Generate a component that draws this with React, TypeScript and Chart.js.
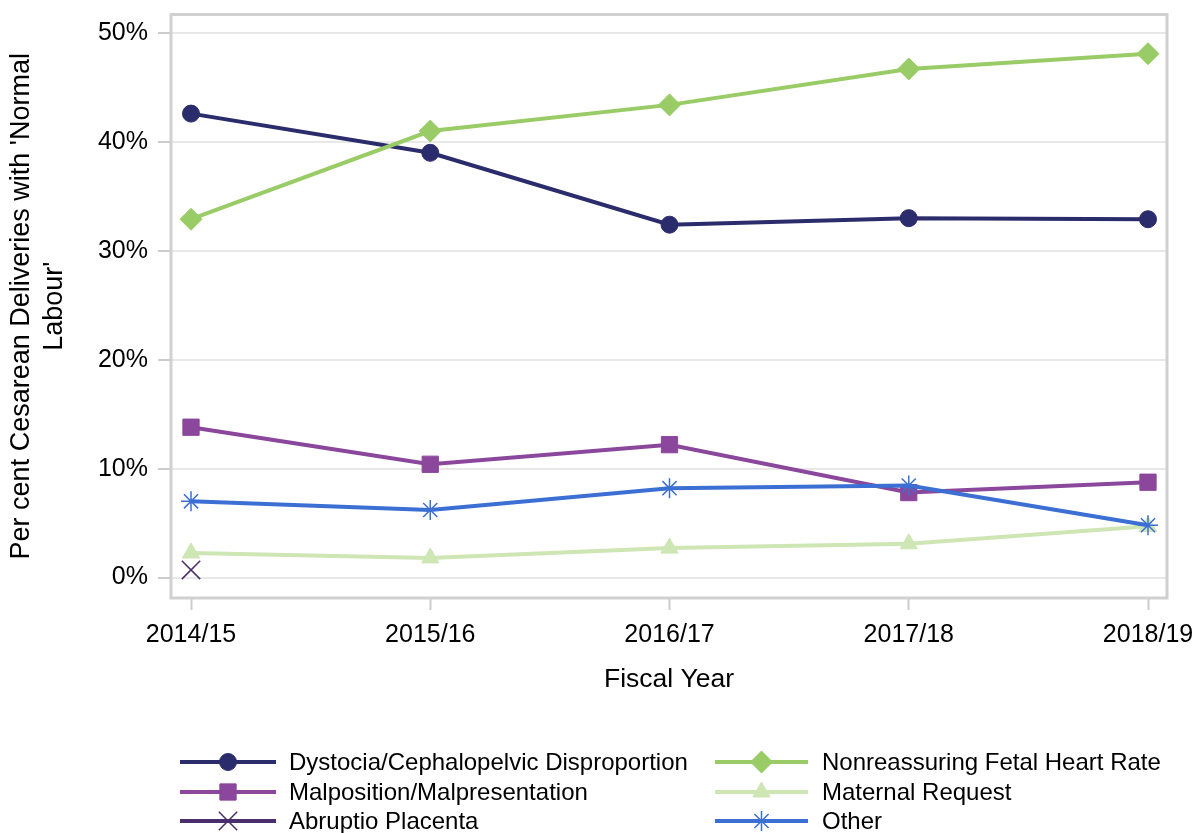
import React, { useEffect, useRef } from 'react';
import { Chart, registerables } from 'chart.js';
import { drawPoint } from 'chart.js/helpers';

Chart.register(...registerables);

const categories = ['2014/15', '2015/16', '2016/17', '2017/18', '2018/19'];
const dystocia = [42.6, 39.0, 32.4, 33.0, 32.9];
const nonreassuring = [32.9, 41.0, 43.4, 46.7, 48.1];
const malposition = [13.8, 10.4, 12.2, 7.8, 8.75];
const maternalRequest = [2.25, 1.8, 2.7, 3.1, 4.7];
const abruptio = [0.7, null, null, null, null];
const other = [7.0, 6.2, 8.2, 8.45, 4.8];
const yTicks = [0, 10, 20, 30, 40, 50];

const FONT = "'Liberation Sans', Arial, sans-serif";

type SeriesDef = {
  label: string;
  values: (number | null)[];
  color: string;
  pointStyle: string;
  radius: number;
  pointBorderWidth: number;
  order: number;
};

const series: SeriesDef[] = [
  { label: 'Dystocia/Cephalopelvic Disproportion', values: dystocia, color: '#2b2c6c', pointStyle: 'circle', radius: 8.5, pointBorderWidth: 1, order: 5 },
  { label: 'Nonreassuring Fetal Heart Rate', values: nonreassuring, color: '#99cc66', pointStyle: 'rectRot', radius: 11, pointBorderWidth: 1, order: 4 },
  { label: 'Malposition/Malpresentation', values: malposition, color: '#8b479c', pointStyle: 'rect', radius: 11.5, pointBorderWidth: 1, order: 3 },
  { label: 'Maternal Request', values: maternalRequest, color: '#cde6b4', pointStyle: 'triangle', radius: 10, pointBorderWidth: 1, order: 2 },
  { label: 'Abruptio Placenta', values: abruptio, color: '#4a2d6d', pointStyle: 'crossRot', radius: 13, pointBorderWidth: 1.5, order: 1 },
  { label: 'Other', values: other, color: '#3c6fd3', pointStyle: 'star', radius: 10, pointBorderWidth: 1.5, order: 0 },
];

const frameAndLegend = {
  id: 'frameAndLegend',
  beforeDatasetsDraw(chart: any) {
    const { ctx, chartArea } = chart;
    ctx.save();
    ctx.strokeStyle = '#d0d0d0';
    ctx.lineWidth = 3;
    ctx.strokeRect(chartArea.left, chartArea.top, chartArea.right - chartArea.left, chartArea.bottom - chartArea.top);
    ctx.restore();
  },
  afterDraw(chart: any) {
    const { ctx } = chart;
    ctx.save();
    const cols = [
      { lineX0: 180, lineX1: 276, textX: 289 },
      { lineX0: 715, lineX1: 808, textX: 822 },
    ];
    const rows = [762, 792, 821];
    series.forEach((s, i) => {
      const c = cols[i % 2];
      const y = rows[Math.floor(i / 2)];
      ctx.strokeStyle = s.color;
      ctx.lineWidth = 4;
      ctx.beginPath();
      ctx.moveTo(c.lineX0, y);
      ctx.lineTo(c.lineX1, y);
      ctx.stroke();
      ctx.fillStyle = s.color;
      ctx.strokeStyle = s.color;
      ctx.lineWidth = s.pointBorderWidth;
      drawPoint(ctx, { pointStyle: s.pointStyle as any, radius: s.radius, rotation: 0, borderWidth: s.pointBorderWidth }, (c.lineX0 + c.lineX1) / 2, y);
      ctx.fillStyle = '#000000';
      ctx.font = `24px ${FONT}`;
      ctx.textAlign = 'left';
      ctx.textBaseline = 'middle';
      ctx.fillText(s.label, c.textX, y + 1);
    });
    ctx.restore();
  },
};

export default function App() {
  const canvasRef = useRef<HTMLCanvasElement | null>(null);

  useEffect(() => {
    const canvas = canvasRef.current;
    if (!canvas) return;
    const chart = new Chart(canvas, {
      type: 'line',
      data: {
        datasets: series.map((s) => ({
          label: s.label,
          data: s.values.map((v, i) => ({ x: i, y: v })),
          borderColor: s.color,
          backgroundColor: s.color,
          borderWidth: 4,
          pointStyle: s.pointStyle as any,
          pointRadius: s.radius,
          pointBackgroundColor: s.color,
          pointBorderColor: s.color,
          pointBorderWidth: s.pointBorderWidth,
          tension: 0,
          fill: false,
          order: s.order,
        })),
      },
      options: {
        responsive: false,
        animation: false,
        layout: { padding: { top: 12, right: 30, bottom: 135, left: 0 } },
        plugins: {
          legend: { display: false },
          tooltip: { enabled: false },
        },
        scales: {
          x: {
            type: 'linear',
            min: -0.0836,
            max: 4.0794,
            afterBuildTicks: (scale: any) => {
              scale.ticks = categories.map((_, i) => ({ value: i }));
            },
            afterFit: (scale: any) => {
              scale.height = 100;
              scale.paddingLeft = 0;
              scale.paddingRight = 0;
            },
            grid: {
              drawOnChartArea: false,
              drawTicks: true,
              tickLength: 12,
              tickColor: '#cccccc',
              tickWidth: 2,
            },
            border: { display: false },
            ticks: {
              padding: 10,
              color: '#000000',
              font: { family: FONT, size: 25 },
              maxRotation: 0,
              autoSkip: false,
              callback: (v: any) => categories[Number(v)] ?? '',
            },
            title: {
              display: true,
              text: 'Fiscal Year',
              color: '#000000',
              font: { family: FONT, size: 26.5 },
              padding: { top: 0, bottom: 2 },
            },
          },
          y: {
            type: 'linear',
            min: -1.88,
            max: 51.7,
            afterBuildTicks: (scale: any) => {
              scale.ticks = yTicks.map((v) => ({ value: v }));
            },
            afterFit: (scale: any) => {
              scale.width = 171;
              scale.paddingTop = 0;
              scale.paddingBottom = 0;
            },
            grid: {
              color: '#e8e8e8',
              lineWidth: 2,
              drawTicks: true,
              tickLength: 13,
              tickColor: '#cccccc',
              tickWidth: 2,
            },
            border: { display: false },
            ticks: {
              padding: 10,
              color: '#000000',
              font: { family: FONT, size: 25 },
              callback: (v: any) => `${v}%`,
            },
            title: {
              display: true,
              text: ["Per cent Cesarean Deliveries with 'Normal", "Labour'"],
              color: '#000000',
              font: { family: FONT, size: 27 },
              padding: { top: 5.5, bottom: 0 },
            },
          },
        },
      },
      plugins: [frameAndLegend],
    });
    return () => chart.destroy();
  }, []);

  return (
    <div style={{ position: 'fixed', left: 0, top: 0, width: 1197, height: 833, background: '#ffffff' }}>
      <canvas ref={canvasRef} width={1197} height={833} style={{ display: 'block' }} />
    </div>
  );
}
